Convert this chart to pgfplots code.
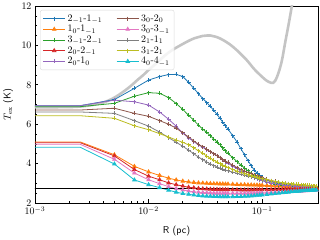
\documentclass[border=0pt]{standalone}
\usepackage{pgfplots}
\usepackage{pgfplotstable}
\pgfplotsset{compat=1.18}
\definecolor{c0}{HTML}{1F77B4}
\definecolor{c1}{HTML}{FF7F0E}
\definecolor{c2}{HTML}{2CA02C}
\definecolor{c3}{HTML}{D62728}
\definecolor{c4}{HTML}{9467BD}
\definecolor{c5}{HTML}{8C564B}
\definecolor{c6}{HTML}{E377C2}
\definecolor{c7}{HTML}{7F7F7F}
\definecolor{c8}{HTML}{BCBD22}
\definecolor{c9}{HTML}{17BECF}
\definecolor{thickgray}{HTML}{C4C4C4}

\pgfplotstableread{
R A B C D E F G H I J
0.0005 6.94 5.10 6.89 5.06 6.94 6.72 4.98 6.62 6.43 4.83
0.0025 6.94 5.10 6.89 5.06 6.94 6.72 4.98 6.62 6.43 4.83
0.005 7.25 4.45 7.06 4.39 7.22 6.81 4.22 6.55 6.30 3.98
0.0075 7.82 3.86 7.42 3.70 7.14 6.55 3.52 6.18 5.92 3.17
0.01 8.24 3.58 7.60 3.36 6.97 6.40 3.18 5.90 5.72 2.93
0.0125 8.42 3.40 7.57 3.18 6.62 6.18 2.98 5.60 5.52 2.78
0.015 8.52 3.26 7.35 3.02 6.25 6.00 2.83 5.32 5.35 2.65
0.0175 8.53 3.17 7.05 2.93 5.90 5.80 2.73 5.08 5.20 2.55
0.02 8.42 3.11 6.75 2.86 5.55 5.56 2.66 4.88 5.08 2.48
0.0225 8.12 3.07 6.45 2.80 5.30 5.35 2.61 4.68 4.95 2.44
0.025 7.82 3.04 6.20 2.77 5.12 5.15 2.57 4.50 4.80 2.41
0.0275 7.55 3.02 5.95 2.74 4.95 4.98 2.55 4.33 4.65 2.38
0.03 7.30 3.01 5.75 2.72 4.83 4.85 2.53 4.20 4.52 2.36
0.0325 7.10 3.00 5.58 2.71 4.70 4.72 2.52 4.08 4.38 2.35
0.035 6.90 2.99 5.42 2.70 4.60 4.60 2.51 3.98 4.27 2.34
0.0375 6.70 2.98 5.25 2.69 4.50 4.50 2.50 3.90 4.17 2.33
0.04 6.50 2.98 5.10 2.69 4.40 4.40 2.50 3.83 4.08 2.33
0.0425 6.30 2.97 4.95 2.68 4.30 4.30 2.49 3.77 4.00 2.32
0.045 6.10 2.97 4.80 2.68 4.20 4.20 2.49 3.72 3.93 2.32
0.0475 5.92 2.96 4.65 2.68 4.10 4.13 2.49 3.67 3.86 2.32
0.05 5.75 2.96 4.52 2.67 4.02 4.06 2.49 3.63 3.80 2.32
0.055 5.42 2.95 4.30 2.67 3.87 3.92 2.49 3.57 3.70 2.32
0.06 5.10 2.94 4.10 2.67 3.74 3.80 2.49 3.51 3.62 2.33
0.065 4.75 2.93 3.93 2.66 3.62 3.70 2.49 3.46 3.55 2.33
0.07 4.45 2.93 3.77 2.66 3.52 3.62 2.49 3.41 3.49 2.34
0.075 4.15 2.92 3.63 2.66 3.43 3.54 2.50 3.37 3.44 2.35
0.08 3.90 2.92 3.50 2.66 3.35 3.48 2.50 3.33 3.39 2.36
0.085 3.68 2.91 3.40 2.67 3.29 3.43 2.50 3.29 3.35 2.37
0.09 3.52 2.91 3.30 2.67 3.23 3.38 2.51 3.25 3.31 2.39
0.095 3.40 2.90 3.22 2.67 3.18 3.33 2.51 3.22 3.27 2.40
0.1 3.30 2.90 3.15 2.67 3.14 3.28 2.51 3.19 3.24 2.41
0.11 3.17 2.89 3.06 2.67 3.07 3.20 2.52 3.14 3.18 2.43
0.12 3.08 2.88 3.00 2.68 3.02 3.14 2.53 3.10 3.13 2.46
0.13 3.02 2.87 2.96 2.68 2.98 3.10 2.54 3.07 3.09 2.48
0.14 2.98 2.87 2.93 2.69 2.95 3.06 2.55 3.05 3.06 2.50
0.15 2.95 2.86 2.91 2.69 2.93 3.03 2.55 3.02 3.03 2.52
0.16 2.93 2.85 2.89 2.70 2.91 3.01 2.56 3.00 3.01 2.54
0.17 2.91 2.85 2.88 2.70 2.89 2.99 2.57 2.98 2.99 2.55
0.18 2.90 2.84 2.87 2.70 2.88 2.97 2.58 2.96 2.97 2.57
0.19 2.89 2.84 2.86 2.71 2.87 2.95 2.58 2.95 2.96 2.58
0.2 2.88 2.83 2.86 2.71 2.86 2.94 2.59 2.94 2.95 2.59
0.21 2.87 2.83 2.85 2.71 2.85 2.93 2.60 2.93 2.94 2.60
0.22 2.86 2.82 2.85 2.72 2.85 2.92 2.60 2.92 2.93 2.61
0.23 2.86 2.82 2.84 2.72 2.84 2.91 2.61 2.91 2.92 2.62
0.24 2.85 2.82 2.84 2.72 2.84 2.90 2.62 2.90 2.91 2.63
0.25 2.85 2.81 2.83 2.73 2.83 2.89 2.62 2.89 2.90 2.63
0.26 2.84 2.81 2.83 2.73 2.83 2.88 2.63 2.88 2.89 2.64
0.27 2.84 2.81 2.83 2.73 2.83 2.87 2.63 2.87 2.88 2.64
0.28 2.83 2.80 2.82 2.74 2.82 2.86 2.64 2.86 2.87 2.65
0.29 2.83 2.80 2.82 2.74 2.82 2.85 2.65 2.85 2.86 2.65
0.3 2.82 2.80 2.82 2.74 2.82 2.84 2.65 2.84 2.85 2.66
}\data

\pgfplotstableread{
R T
0.0005 6.85
0.002 6.87
0.003 6.95
0.004 7.10
0.005 7.35
0.006 7.65
0.007 7.95
0.008 8.25
0.009 8.50
0.01 8.75
0.012 9.15
0.014 9.50
0.016 9.75
0.019 10.00
0.022 10.20
0.025 10.35
0.03 10.48
0.0325 10.50
0.035 10.50
0.04 10.42
0.045 10.28
0.052 10.05
0.06 9.75
0.073 9.26
0.085 8.80
0.1 8.40
0.11 8.20
0.12 8.10
0.125 8.10
0.13 8.20
0.135 8.40
0.14 8.65
0.145 8.95
0.15 9.30
0.155 9.75
0.16 10.20
0.165 10.60
0.17 11.00
0.175 11.40
0.18 11.80
0.185 12.20
0.19 12.60
0.2 13.30
}\grayprofile

\begin{document}
\begin{tikzpicture}
\begin{axis}[
  scale only axis,
  width=283bp, height=197bp,
  xmode=log,
  xmin=0.001, xmax=0.31,
  ymin=2, ymax=12,
  ytick={2,4,6,8,10,12},
  minor y tick num=3,
  tick align=inside,
  tick pos=left,
  major tick length=3.5bp,
  minor tick length=2bp,
  axis line style={line width=0.8bp},
  every tick/.style={black, line width=0.6bp},
  tick label style={font=\normalsize},
  xlabel={\textsf{R (pc)}},
  ylabel={$T_{\rm ex}$ \textsf{(K)}},
  every axis x label/.style={at={(axis description cs:0.5,-0.142)}, anchor=center},
  every axis y label/.style={at={(axis description cs:-0.095,0.5)}, rotate=90, anchor=center},
  legend columns=2,
  legend cell align=left,
  legend image code/.code={\draw[mark repeat=2,mark phase=2] plot coordinates {(0cm,0cm) (0.39cm,0cm) (0.78cm,0cm)};},
  legend style={at={(rel axis cs:0.018,0.98)}, anchor=north west,
    draw=black!15, rounded corners=2pt, fill=white, fill opacity=0.8, text opacity=1,
    font=\normalsize, inner sep=2.5pt, row sep=-1.2pt,
    /tikz/every even column/.append style={column sep=12pt}},
  every axis plot/.append style={line width=0.8bp},
]
\addplot[thickgray, line width=2.6bp, smooth, forget plot] table[x=R, y=T] {\grayprofile};
\addplot[c0, mark=+, mark size=2pt, mark indices={2,...,60}, forget plot] table[x=R, y=A] {\data};
\addplot[c1, mark=triangle*, mark size=2pt, mark indices={2,...,60}, forget plot] table[x=R, y=B] {\data};
\addplot[c2, mark=+, mark size=2pt, mark indices={2,...,60}, forget plot] table[x=R, y=C] {\data};
\addplot[c3, mark=triangle*, mark size=2pt, mark indices={2,...,60}, forget plot] table[x=R, y=D] {\data};
\addplot[c4, mark=+, mark size=2pt, mark indices={2,...,60}, forget plot] table[x=R, y=E] {\data};
\addplot[c5, mark=+, mark size=2pt, mark indices={2,...,60}, forget plot] table[x=R, y=F] {\data};
\addplot[c6, mark=triangle*, mark size=2pt, mark indices={2,...,60}, forget plot] table[x=R, y=G] {\data};
\addplot[c7, mark=+, mark size=2pt, mark indices={2,...,60}, forget plot] table[x=R, y=H] {\data};
\addplot[c8, mark=+, mark size=2pt, mark indices={2,...,60}, forget plot] table[x=R, y=I] {\data};
\addplot[c9, mark=triangle*, mark size=2pt, mark indices={2,...,60}, forget plot] table[x=R, y=J] {\data};
\addplot[black, line width=0.8bp, forget plot] coordinates {(0.0005,2.725) (1,2.725)};

\addlegendimage{c0, mark=+, mark size=2pt}
\addlegendentry{$2_{-1}$-$1_{-1}$}
\addlegendimage{c5, mark=+, mark size=2pt}
\addlegendentry{$3_{0}$-$2_{0}$}
\addlegendimage{c1, mark=triangle*, mark size=2pt}
\addlegendentry{$1_{0}$-$1_{-1}$}
\addlegendimage{c6, mark=triangle*, mark size=2pt}
\addlegendentry{$3_{0}$-$3_{-1}$}
\addlegendimage{c2, mark=+, mark size=2pt}
\addlegendentry{$3_{-1}$-$2_{-1}$}
\addlegendimage{c7, mark=+, mark size=2pt}
\addlegendentry{$2_{1}$-$1_{1}$}
\addlegendimage{c3, mark=triangle*, mark size=2pt}
\addlegendentry{$2_{0}$-$2_{-1}$}
\addlegendimage{c8, mark=+, mark size=2pt}
\addlegendentry{$3_{1}$-$2_{1}$}
\addlegendimage{c4, mark=+, mark size=2pt}
\addlegendentry{$2_{0}$-$1_{0}$}
\addlegendimage{c9, mark=triangle*, mark size=2pt}
\addlegendentry{$4_{0}$-$4_{-1}$}
\end{axis}
\pgfresetboundingbox
\path ([shift={(-35bp,-37bp)}]current axis.south west) rectangle ([shift={(2bp,6bp)}]current axis.north east);
\end{tikzpicture}
\end{document}
